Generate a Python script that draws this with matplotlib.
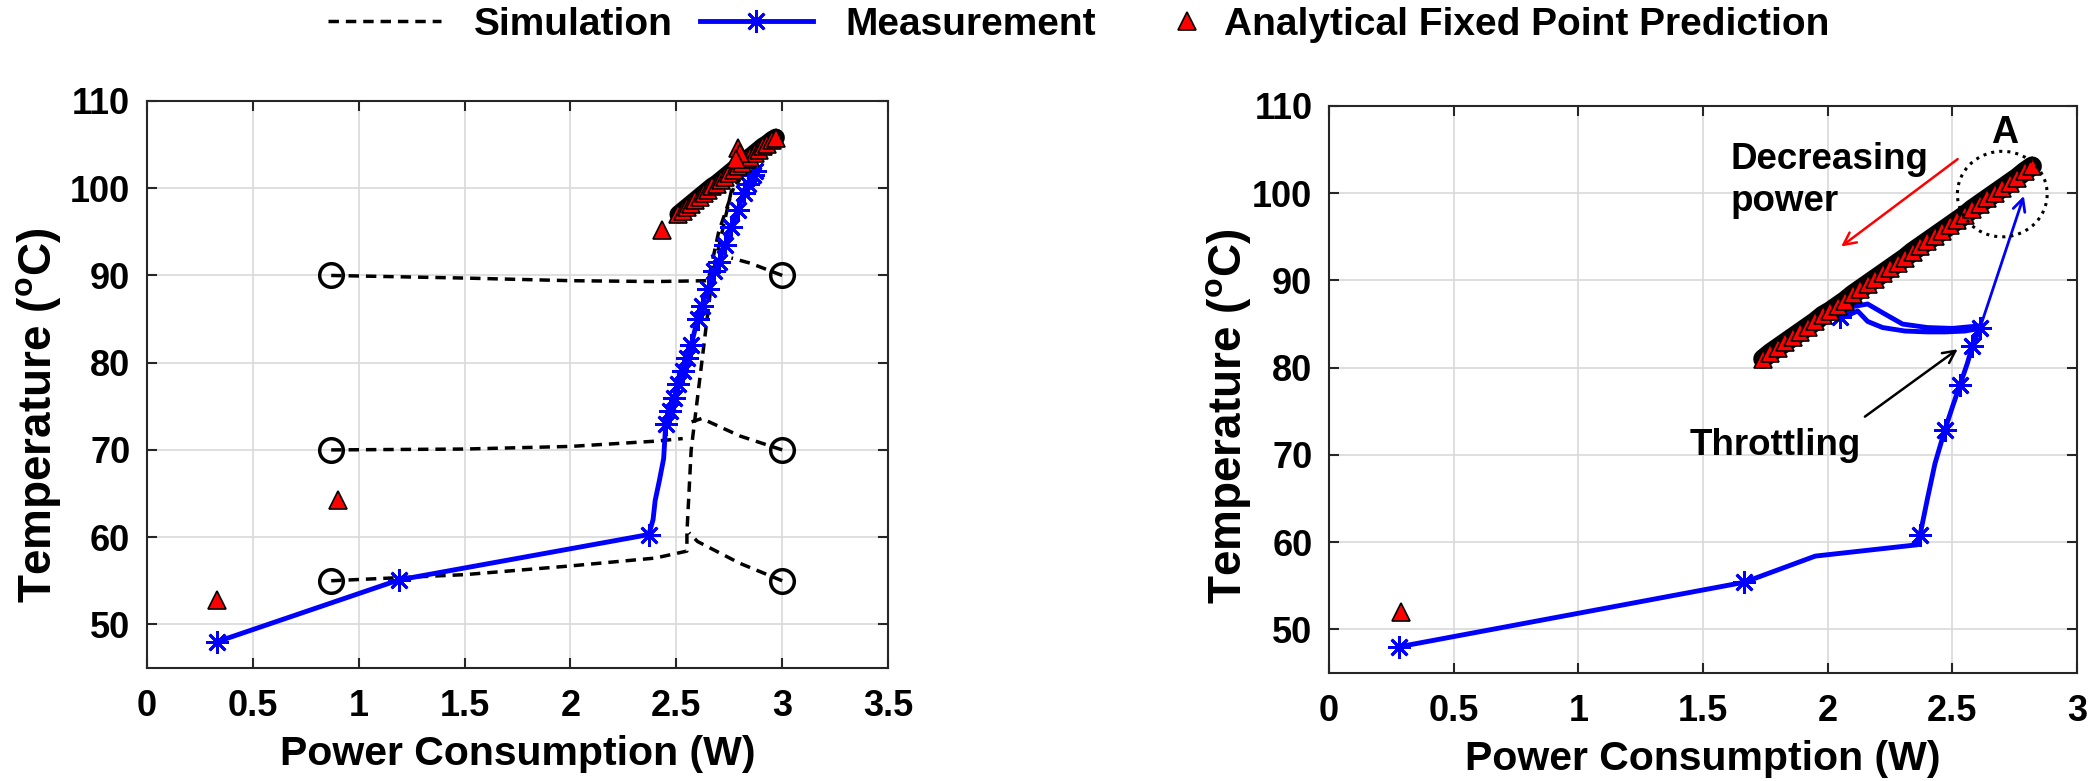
import numpy as np
import matplotlib
matplotlib.use("Agg")
import matplotlib.pyplot as plt
from matplotlib.lines import Line2D
from matplotlib.patches import Ellipse

plt.rcParams['font.family'] = ['Liberation Sans', 'DejaVu Sans']
plt.rcParams['font.weight'] = 'bold'
plt.rcParams['mathtext.fontset'] = 'custom'
plt.rcParams['mathtext.bf'] = 'Liberation Sans:bold'
plt.rcParams['mathtext.rm'] = 'Liberation Sans:bold'
plt.rcParams['mathtext.default'] = 'bf'

# ---- left panel data ----
# simulation trajectories (start at circles, converge to the fixed point)
sim_a_x = [0.87, 1.5, 2.0, 2.4, 2.65, 2.70, 2.77]
sim_a_y = [90.0, 89.7, 89.4, 89.3, 89.4, 95.0, 100.0]
sim_b_x = [3.0, 2.85, 2.76]
sim_b_y = [90.0, 91.4, 92.0]
sim_c_x = [0.87, 1.5, 2.0, 2.4, 2.53]
sim_c_y = [70.0, 70.1, 70.4, 71.0, 71.3]
sim_d_x = [3.0, 2.8, 2.62, 2.57]
sim_d_y = [70.0, 71.6, 73.6, 73.2]
sim_e_x = [0.87, 1.5, 2.0, 2.4, 2.55, 2.55, 2.57, 2.62, 2.67, 2.76, 2.80]
sim_e_y = [55.0, 55.7, 56.7, 57.6, 58.4, 60.5, 70.0, 80.0, 90.0, 99.7, 101.0]
sim_f_x = [3.0, 2.8, 2.6, 2.56]
sim_f_y = [55.0, 57.0, 59.5, 60.5]
sim_start_x = [0.87, 0.87, 0.87, 3.0, 3.0, 3.0]
sim_start_y = [90, 70, 55, 90, 70, 55]

meas_l_x = [0.33, 1.19, 2.37, 2.39, 2.40, 2.42, 2.44, 2.45, 2.47, 2.49, 2.51, 2.53,
            2.55, 2.57, 2.60, 2.62, 2.65, 2.68, 2.70, 2.73, 2.76, 2.79, 2.82, 2.84,
            2.86, 2.87]
meas_l_y = [48.0, 55.1, 60.3, 62.0, 64.2, 66.5, 69.0, 73.0, 74.5, 76.0, 77.5, 79.0,
            80.5, 82.0, 85.0, 86.5, 88.5, 90.5, 91.5, 93.5, 95.5, 97.5, 99.5, 100.5,
            101.5, 102.0]

# analytical fixed points: isolated ones and the dense band near the top
fp_l_iso_x = [0.33, 0.90, 2.43, 2.79, 2.80, 2.78]
fp_l_iso_y = [52.8, 64.3, 95.2, 104.6, 104.0, 103.4]
fp_l_band_x = [2.51, 2.53, 2.55, 2.57, 2.59, 2.61, 2.63, 2.65, 2.67, 2.69, 2.71,
               2.73, 2.75, 2.77, 2.79, 2.81, 2.83, 2.85, 2.87, 2.89, 2.91, 2.93,
               2.95, 2.97]
fp_l_band_y = [97.0, 97.4, 97.8, 98.2, 98.6, 99.0, 99.4, 99.8, 100.2, 100.5, 100.9,
               101.3, 101.7, 102.1, 102.5, 102.9, 103.3, 103.6, 104.0, 104.4, 104.8,
               105.1, 105.5, 105.8]

# ---- right panel data ----
meas_r_x = [0.28, 1.665, 1.95, 2.36, 2.37, 2.40, 2.43, 2.47, 2.50, 2.53, 2.56, 2.58,
            2.61, 2.55, 2.47, 2.40, 2.31, 2.22, 2.16, 2.12, 2.08, 2.05, 2.10, 2.16,
            2.22, 2.30, 2.40, 2.50, 2.61]
meas_r_y = [48.0, 55.4, 58.4, 59.7, 60.8, 65.0, 69.0, 72.9, 75.5, 78.0, 80.5, 82.5,
            84.5, 84.2, 84.1, 84.1, 84.2, 84.6, 85.3, 86.5, 86.0, 85.8, 87.0, 87.3,
            86.3, 85.0, 84.6, 84.5, 84.8]

fp_r_iso_x = [0.29]
fp_r_iso_y = [52.0]
fp_r_band_x = [1.74, 1.77, 1.80, 1.83, 1.86, 1.89, 1.92, 1.95, 1.98, 2.01, 2.04,
               2.07, 2.10, 2.13, 2.16, 2.19, 2.22, 2.25, 2.28, 2.31, 2.34, 2.37,
               2.40, 2.43, 2.46, 2.49, 2.52, 2.55, 2.58, 2.61, 2.64, 2.67, 2.70,
               2.73, 2.76, 2.79, 2.82]
fp_r_band_y = [81.0, 81.7, 82.3, 82.9, 83.5, 84.1, 84.7, 85.3, 86.0, 86.5, 87.1,
               87.7, 88.4, 89.0, 89.6, 90.2, 90.8, 91.4, 92.0, 92.6, 93.3, 93.9,
               94.5, 95.1, 95.7, 96.3, 96.9, 97.5, 98.2, 98.8, 99.4, 100.0, 100.6,
               101.2, 101.8, 102.5, 103.1]

yticks = [50, 60, 70, 80, 90, 100, 110]
xticks_l = [0, 0.5, 1, 1.5, 2, 2.5, 3, 3.5]
xlabels_l = ['0', '0.5', '1', '1.5', '2', '2.5', '3', '3.5']
xticks_r = [0, 0.5, 1, 1.5, 2, 2.5, 3]
xlabels_r = ['0', '0.5', '1', '1.5', '2', '2.5', '3']

fig = plt.figure(figsize=(20.97, 7.81), dpi=100)
ax1 = fig.add_axes([0.0701, 0.1447, 0.3534, 0.726])
ax2 = fig.add_axes([0.6338, 0.1383, 0.3567, 0.726])

sim_style = dict(color='black', ls=(0, (3, 2)), lw=2.5, zorder=2)
for sx, sy in [(sim_a_x, sim_a_y), (sim_b_x, sim_b_y), (sim_c_x, sim_c_y),
               (sim_d_x, sim_d_y), (sim_e_x, sim_e_y), (sim_f_x, sim_f_y)]:
    ax1.plot(sx, sy, **sim_style)
ax1.plot(sim_start_x, sim_start_y, ls='none', marker='o', ms=17, mfc='none',
         mec='black', mew=2.5, zorder=3)

star = (8, 2, 0)
tri = dict(ls='none', marker='^', ms=13, mfc='red', mec='black', mew=1.2)

ax1.plot(meas_l_x, meas_l_y, color='blue', lw=3.5, marker=star, ms=16, mew=2,
         markevery=[0, 1, 2] + list(range(7, len(meas_l_x))), zorder=4)
# overlapping black-edged triangles read as a dark band
ax1.plot(fp_l_band_x, fp_l_band_y, color='black', lw=13, solid_capstyle='round',
         zorder=5)
ax1.plot(fp_l_band_x, fp_l_band_y, zorder=6, **tri)
ax1.plot(fp_l_iso_x, fp_l_iso_y, zorder=6, **tri)

ax2.plot(meas_r_x, meas_r_y, color='blue', lw=3.5, marker=star, ms=16, mew=2,
         markevery=[0, 1, 4, 7, 9, 11, 12, 21], zorder=4)
ax2.plot(fp_r_band_x, fp_r_band_y, color='black', lw=14, solid_capstyle='round',
         zorder=5)
ax2.plot(fp_r_band_x, fp_r_band_y, zorder=6, **tri)
ax2.plot(fp_r_iso_x, fp_r_iso_y, zorder=6, **tri)

# annotations on right panel
ax2.annotate('', xy=(2.79, 100.0), xytext=(2.61, 84.5),
             arrowprops=dict(arrowstyle='->', color='blue', lw=2, mutation_scale=22))
ax2.add_patch(Ellipse((2.70, 99.9), 0.36, 9.8, fill=False, ls=':', lw=2.2,
                      ec='black', zorder=7))
ax2.text(2.71, 106.9, 'A', ha='center', va='center', fontsize=27, weight='bold')
ax2.text(1.61, 101.5, 'Decreasing\npower', ha='left', va='center', fontsize=26.5,
         weight='bold', linespacing=1.25)
ax2.annotate('', xy=(2.045, 93.7), xytext=(2.53, 104.1),
             arrowprops=dict(arrowstyle='->', color='red', lw=1.8, mutation_scale=22))
ax2.text(1.79, 71.1, 'Throttling', ha='center', va='center', fontsize=26.5,
         weight='bold')
ax2.annotate('', xy=(2.53, 82.3), xytext=(2.14, 74.2),
             arrowprops=dict(arrowstyle='->', color='black', lw=1.8, mutation_scale=22))

for ax, xt, xl, xmax, ylx, yly in [(ax1, xticks_l, xlabels_l, 3.5, -0.113, 0.445),
                                   (ax2, xticks_r, xlabels_r, 3, -0.102, 0.452)]:
    ax.set_xlim(0, xmax)
    ax.set_ylim(45, 110)
    ax.set_xticks(xt)
    ax.set_xticklabels(xl)
    ax.set_yticks(yticks)
    ax.grid(True, color='#d9d9d9', lw=1.2)
    ax.set_axisbelow(True)
    ax.tick_params(direction='in', length=7, width=1.5, top=True, right=True,
                   labelsize=26, colors='#262626', labelcolor='black')
    ax.tick_params(axis='x', pad=15)
    ax.tick_params(axis='y', pad=12)
    for sp in ax.spines.values():
        sp.set_color('#262626')
        sp.set_linewidth(1.5)
    ax.set_xlabel('Power Consumption (W)', fontsize=29.5, weight='bold', labelpad=8)
    ax.set_ylabel(r'Temperature ($^{o}$C)', fontsize=33, weight='bold')
    ax.yaxis.set_label_coords(ylx, yly)

h_sim = Line2D([], [], color='black', ls=(0, (3, 2)), lw=2.5)
h_meas = Line2D([], [], color='blue', lw=3.5, marker=star, ms=16, mew=2)
h_fp = Line2D([], [], **tri)
fig.legend([h_sim, h_meas], ['Simulation', 'Measurement'], loc='center left',
           bbox_to_anchor=(0.1564, 0.968), ncol=2, frameon=False, fontsize=28,
           handlelength=2.9, handletextpad=0.85, columnspacing=0.7, borderpad=0,
           borderaxespad=0)
fig.legend([h_fp], ['Analytical Fixed Point Prediction'], loc='center left',
           bbox_to_anchor=(0.5585, 0.968), frameon=False, fontsize=28,
           handlelength=0.8, handletextpad=0.55, borderpad=0, borderaxespad=0)

fig.savefig('out.png', dpi=100)
